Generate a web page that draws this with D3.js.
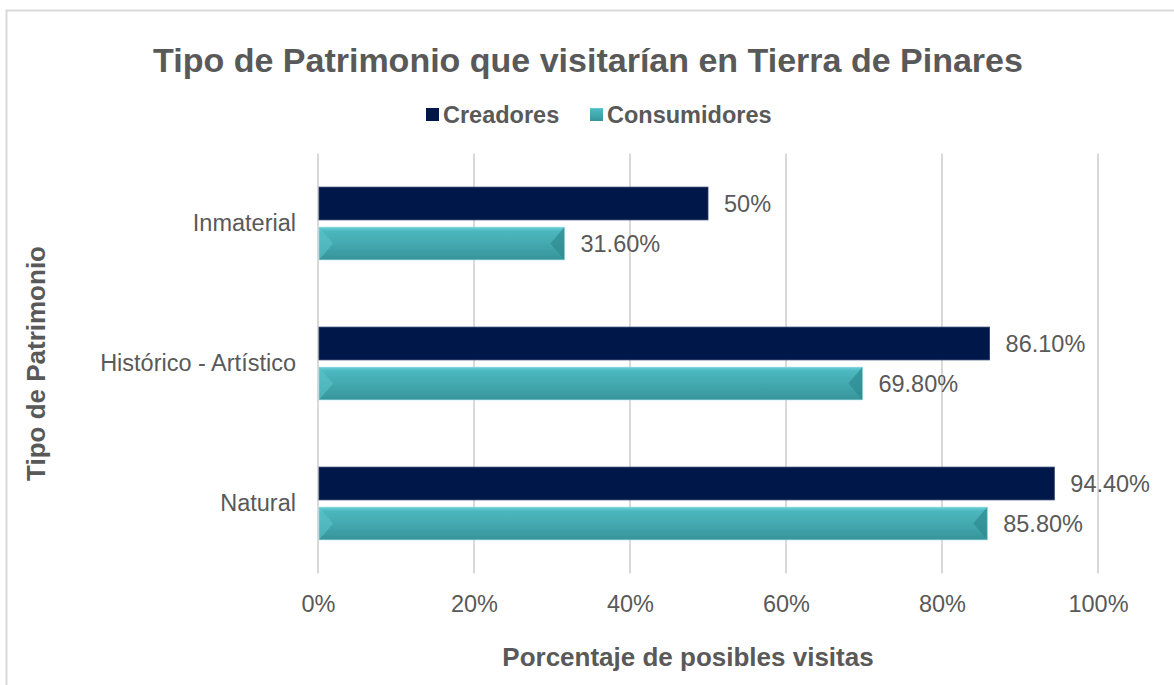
<!DOCTYPE html>
<html><head><meta charset="utf-8">
<script src="https://cdn.jsdelivr.net/npm/d3@7"></script>
<style>body{margin:0;background:#fff;}svg{display:block;font-family:"Liberation Sans",Arial,sans-serif;}</style>
</head><body><svg id="c" width="1174" height="685"></svg>
<script>
const categories = ["Inmaterial", "Histórico - Artístico", "Natural"];
const seriesNames = ["Creadores", "Consumidores"];
const creadores = [50, 86.1, 94.4];
const consumidores = [31.6, 69.8, 85.8];
const labelsCreadores = ["50%", "86.10%", "94.40%"];
const labelsConsumidores = ["31.60%", "69.80%", "85.80%"];
const xTicks = [0, 20, 40, 60, 80, 100];

(function(){
const FONT = "'Liberation Sans',Arial,sans-serif";
const svg = d3.select("#c");
const grey = "#595959";
const defs = svg.append("defs");
const g1 = defs.append("linearGradient").attr("id","gc").attr("x1",0).attr("y1",0).attr("x2",0).attr("y2",1);
g1.append("stop").attr("offset","0").attr("stop-color","#6dd0d8");
g1.append("stop").attr("offset","0.12").attr("stop-color","#4cb7bf");
g1.append("stop").attr("offset","0.55").attr("stop-color","#42a8ae");
g1.append("stop").attr("offset","1").attr("stop-color","#36949a");

svg.append("rect").attr("x",6.5).attr("y",10.5).attr("width",1200).attr("height",700)
  .attr("fill","none").attr("stroke","#d9d9d9").attr("stroke-width",2);

const pl = 318, pr = 1098, pt = 153.5, pb = 573.5;
const x = d3.scaleLinear().domain([0,100]).range([pl,pr]);
const y0 = d3.scaleBand().domain(categories).range([pt,pb]).paddingInner(0.48).paddingOuter(0.24);
const y1 = d3.scaleBand().domain(seriesNames).range([0,y0.bandwidth()]).paddingInner(0.18);

svg.append("g").selectAll("line").data(xTicks).join("line")
  .attr("x1",d=>x(d)).attr("x2",d=>x(d)).attr("y1",pt).attr("y2",pb)
  .attr("stroke","#d9d9d9").attr("stroke-width",2);

const xAxis = d3.axisBottom(x).tickValues(xTicks).tickFormat(d=>d+"%").tickSize(0).tickPadding(22);
const xg = svg.append("g").attr("transform",`translate(0,${pb})`).call(xAxis);
xg.select(".domain").remove();
xg.selectAll("text").attr("font-size",23.5).attr("fill",grey).attr("font-family",FONT);

const yAxis = d3.axisLeft(y0).tickSize(0).tickPadding(22);
const yg = svg.append("g").attr("transform",`translate(${pl},0)`).call(yAxis);
yg.select(".domain").remove();
yg.selectAll("text").attr("font-size",23.5).attr("fill",grey).attr("font-family",FONT);

const data = categories.map((c,i)=>({c, v:[creadores[i], consumidores[i]], l:[labelsCreadores[i], labelsConsumidores[i]]}));

const groups = svg.append("g").selectAll("g").data(data).join("g")
  .attr("transform",d=>`translate(0,${y0(d.c)})`);

groups.append("rect").attr("x",x(0)+1).attr("y",y1("Creadores"))
  .attr("width",d=>x(d.v[0])-x(0)-1).attr("height",y1.bandwidth())
  .attr("fill","#00174a").attr("stroke","#2a3a66").attr("stroke-width",0.8);

const bh = y1.bandwidth();
const cy = y1("Consumidores");
groups.append("rect").attr("x",x(0)+1).attr("y",cy)
  .attr("width",d=>x(d.v[1])-x(0)-1).attr("height",bh)
  .attr("fill","url(#gc)");
const bev = 14;
groups.append("path").attr("d",d=>{
  const xl = x(0)+1, yt=cy, yb=cy+bh, ym=cy+bh/2;
  return `M${xl},${yt}L${xl+bev},${ym}L${xl},${yb}Z`;
}).attr("fill","#5cc3ca").attr("opacity",0.6);
groups.append("path").attr("d",d=>{
  const xr = x(d.v[1]), yt=cy, yb=cy+bh, ym=cy+bh/2;
  return `M${xr},${yt}L${xr-bev},${ym}L${xr},${yb}Z`;
}).attr("fill","#2e8a90").attr("opacity",0.7);
groups.append("rect").attr("x",x(0)+1).attr("y",cy)
  .attr("width",d=>x(d.v[1])-x(0)-1).attr("height",bh)
  .attr("fill","none").attr("stroke","#8fd6db").attr("stroke-width",0.6);

groups.append("text").attr("x",d=>x(d.v[0])+16).attr("y",y1("Creadores")+bh/2)
  .attr("dy","0.35em").attr("font-size",23.5).attr("fill",grey).text(d=>d.l[0]);
groups.append("text").attr("x",d=>x(d.v[1])+16).attr("y",cy+bh/2)
  .attr("dy","0.35em").attr("font-size",23.5).attr("fill",grey).text(d=>d.l[1]);

svg.append("text").attr("x",588).attr("y",72).attr("text-anchor","middle")
  .attr("font-size",34).attr("font-weight","bold").attr("fill",grey)
  .text("Tipo de Patrimonio que visitarían en Tierra de Pinares");

const legend = [{n:"Creadores", x:426, fill:"#00174a"},{n:"Consumidores", x:590, fill:"url(#gc)"}];
const lg = svg.append("g").selectAll("g").data(legend).join("g");
lg.append("rect").attr("x",d=>d.x).attr("y",108).attr("width",13).attr("height",13).attr("fill",d=>d.fill);
lg.append("text").attr("x",d=>d.x+17).attr("y",115).attr("dy","0.35em")
  .attr("font-size",23.5).attr("font-weight","bold").attr("fill",grey).text(d=>d.n);

svg.append("text").attr("x",688).attr("y",666).attr("text-anchor","middle")
  .attr("font-size",26).attr("font-weight","bold").attr("fill",grey).text("Porcentaje de posibles visitas");
svg.append("text").attr("transform",`translate(45,${(pt+pb)/2}) rotate(-90)`).attr("text-anchor","middle")
  .attr("font-size",26).attr("font-weight","bold").attr("fill",grey).text("Tipo de Patrimonio");
})();
</script></body></html>
